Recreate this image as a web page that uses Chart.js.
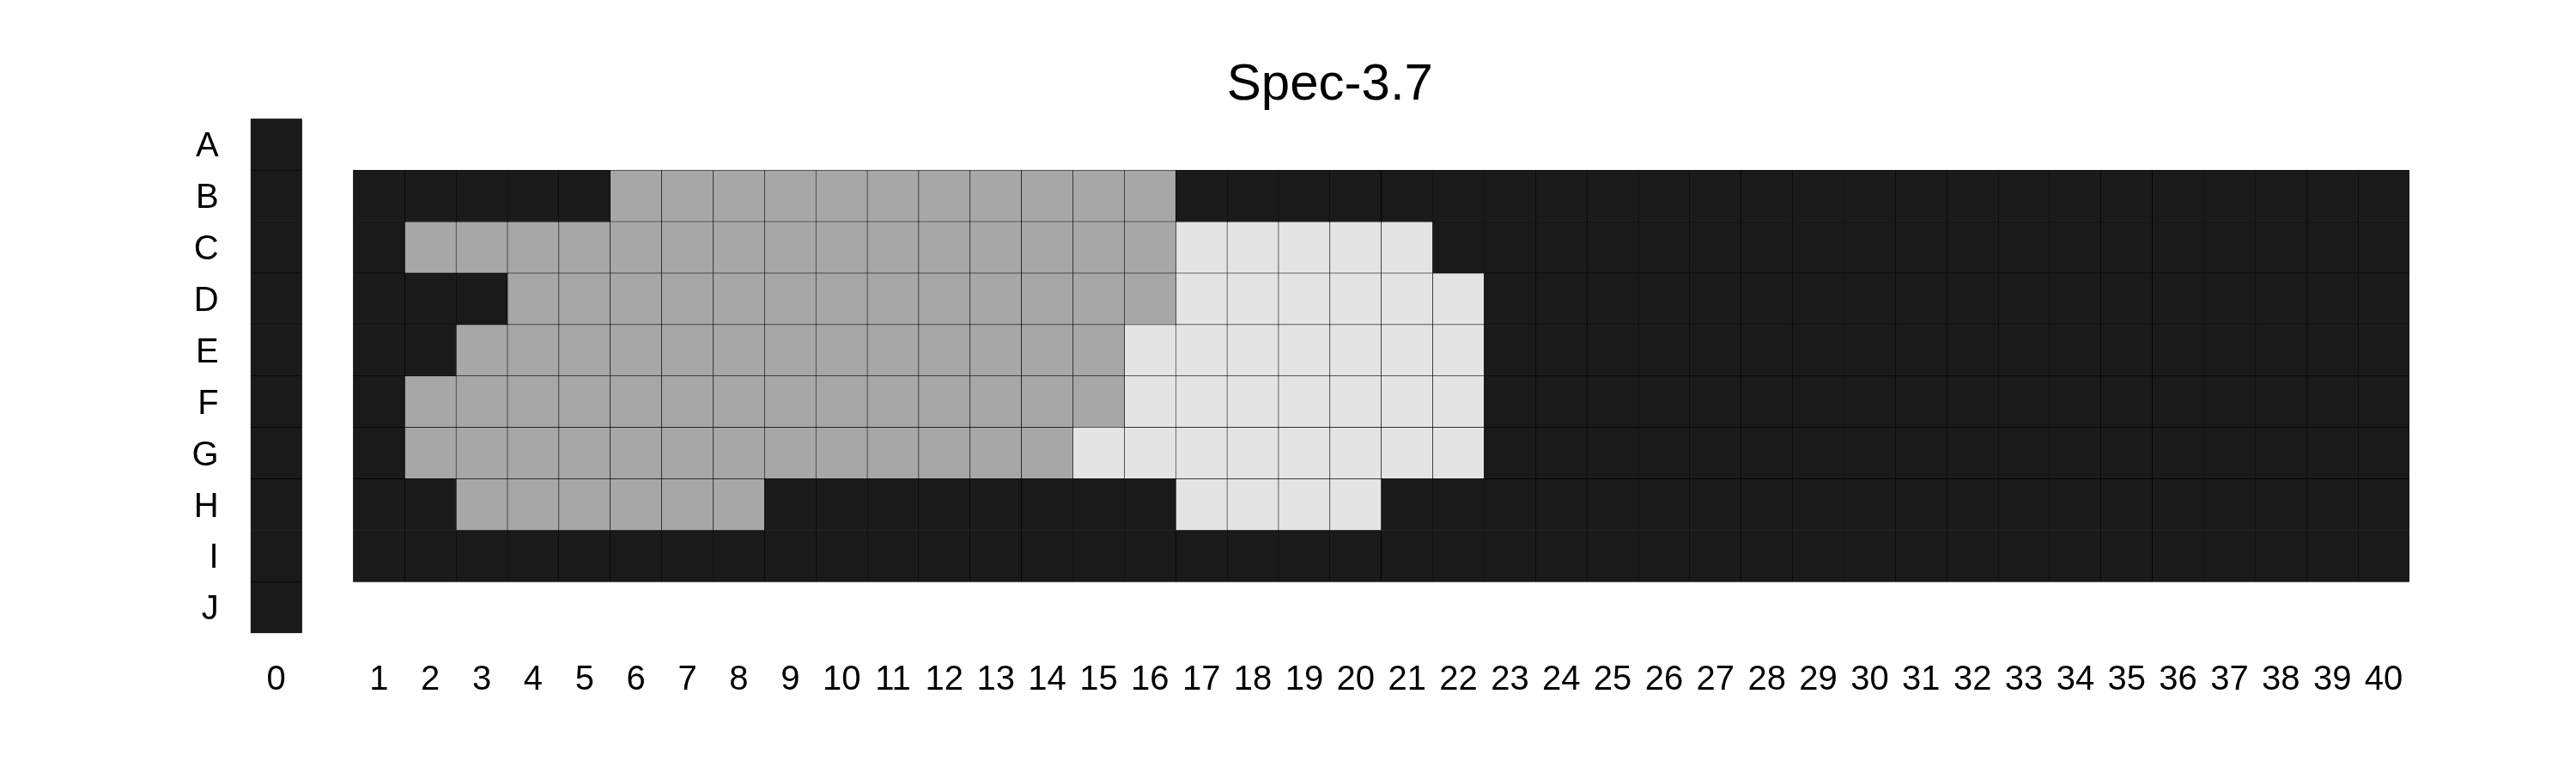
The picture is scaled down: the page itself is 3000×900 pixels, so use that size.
<!DOCTYPE html>
<html>
<head>
<meta charset="utf-8">
<title>Spec-3.7</title>
<script src="https://cdn.jsdelivr.net/npm/chart.js@4.4.1/dist/chart.umd.min.js"></script>
<style>
  html, body { margin: 0; padding: 0; background: #fff; }
  #wrap { width: 3000px; height: 900px; }
</style>
</head>
<body>
<div id="wrap"><canvas id="grid" width="3000" height="900"></canvas></div>
<script>
// Labels
const rowLabels = ["A", "B", "C", "D", "E", "F", "G", "H", "I", "J"];
const colLabels = ["0", "1", "2", "3", "4", "5", "6", "7", "8", "9", "10",
  "11", "12", "13", "14", "15", "16", "17", "18", "19", "20",
  "21", "22", "23", "24", "25", "26", "27", "28", "29", "30",
  "31", "32", "33", "34", "35", "36", "37", "38", "39", "40"];

// Shade of each cell: 0 = dark, 1 = mid grey, 2 = light grey
// column 0, rows A..J
const col0 = [0, 0, 0, 0, 0, 0, 0, 0, 0, 0];
// columns 1..40 for rows B..I
const rowB = [0,0,0,0,0,1,1,1,1,1, 1,1,1,1,1,1,0,0,0,0, 0,0,0,0,0,0,0,0,0,0, 0,0,0,0,0,0,0,0,0,0];
const rowC = [0,1,1,1,1,1,1,1,1,1, 1,1,1,1,1,1,2,2,2,2, 2,0,0,0,0,0,0,0,0,0, 0,0,0,0,0,0,0,0,0,0];
const rowD = [0,0,0,1,1,1,1,1,1,1, 1,1,1,1,1,1,2,2,2,2, 2,2,0,0,0,0,0,0,0,0, 0,0,0,0,0,0,0,0,0,0];
const rowE = [0,0,1,1,1,1,1,1,1,1, 1,1,1,1,1,2,2,2,2,2, 2,2,0,0,0,0,0,0,0,0, 0,0,0,0,0,0,0,0,0,0];
const rowF = [0,1,1,1,1,1,1,1,1,1, 1,1,1,1,1,2,2,2,2,2, 2,2,0,0,0,0,0,0,0,0, 0,0,0,0,0,0,0,0,0,0];
const rowG = [0,1,1,1,1,1,1,1,1,1, 1,1,1,1,2,2,2,2,2,2, 2,2,0,0,0,0,0,0,0,0, 0,0,0,0,0,0,0,0,0,0];
const rowH = [0,0,1,1,1,1,1,1,0,0, 0,0,0,0,0,0,2,2,2,2, 0,0,0,0,0,0,0,0,0,0, 0,0,0,0,0,0,0,0,0,0];
const rowI = [0,0,0,0,0,0,0,0,0,0, 0,0,0,0,0,0,0,0,0,0, 0,0,0,0,0,0,0,0,0,0, 0,0,0,0,0,0,0,0,0,0];

const shadeNames = ["dark", "mid", "light"];
const shadeColors = ["#1a1a1a", "#a7a7a7", "#e4e4e4"];

const FONT = "'Liberation Sans', Arial, Helvetica, sans-serif";
const mainRows = { B: rowB, C: rowC, D: rowD, E: rowE, F: rowF, G: rowG, H: rowH, I: rowI };

// column 0 sits one empty slot to the left of column 1
function colPos(c) { return c === 0 ? 0 : c + 1; }

// one list of floating bars per shade
const cells = [[], [], []];
col0.forEach((v, r) => {
  cells[v].push({ y: rowLabels[r], x: [colPos(0) - 0.5, colPos(0) + 0.5] });
});
Object.keys(mainRows).forEach(row => {
  mainRows[row].forEach((v, i) => {
    const p = colPos(i + 1);
    cells[v].push({ y: row, x: [p - 0.5, p + 0.5] });
  });
});

const datasets = cells.map((pts, k) => ({
  label: shadeNames[k],
  data: pts,
  backgroundColor: shadeColors[k],
  borderColor: "#000",
  borderWidth: 0.6,
  borderSkipped: false,
  grouped: false,
  barPercentage: 1,
  categoryPercentage: 1
}));

const ctx = document.getElementById("grid").getContext("2d");
new Chart(ctx, {
  type: "bar",
  data: { labels: rowLabels, datasets },
  options: {
    indexAxis: "y",
    responsive: false,
    animation: false,
    devicePixelRatio: 1,
    // left/right kept so the title centres over the plot area
    layout: { padding: { left: 97.8, right: 0, top: 0, bottom: 60.7 } },
    plugins: {
      legend: { display: false },
      tooltip: { enabled: false },
      title: {
        display: true,
        text: "Spec-3.7",
        color: "#000",
        font: { family: FONT, size: 60, weight: "normal" },
        padding: { top: 63.3, bottom: 3 }
      }
    },
    scales: {
      y: {
        type: "category",
        labels: rowLabels,
        offset: true,
        grid: { display: false, drawTicks: false },
        border: { display: false },
        ticks: { color: "#000", font: { family: FONT, size: 40 }, padding: 37, labelOffset: 3 },
        afterFit: s => { s.width = 193.9; }
      },
      // empty spacer on the right
      y2: {
        type: "category",
        position: "right",
        labels: rowLabels,
        grid: { display: false, drawTicks: false },
        border: { display: false },
        ticks: { display: false },
        afterFit: s => { s.width = 194; }
      },
      x: {
        type: "linear",
        min: -0.5,
        max: 41.5,
        grid: { display: false, drawTicks: false },
        border: { display: false },
        ticks: {
          color: "#000",
          font: { family: FONT, size: 40 },
          padding: 31,
          autoSkip: false,
          maxRotation: 0,
          callback: (v, i) => colLabels[i]
        },
        afterBuildTicks: s => { s.ticks = colLabels.map((_, c) => ({ value: colPos(c) })); },
        afterFit: s => { s.height = 102; }
      }
    }
  }
});
</script>
</body>
</html>
